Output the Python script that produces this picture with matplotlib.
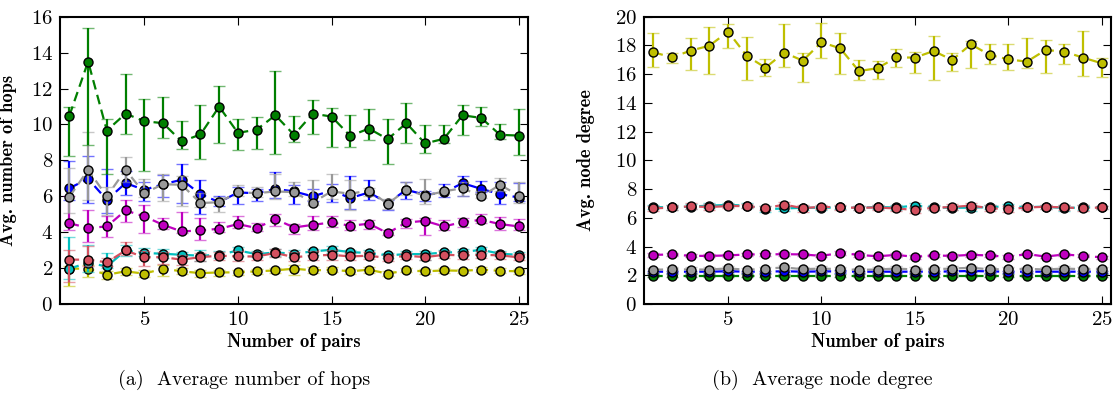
import matplotlib
matplotlib.use("Agg")
import matplotlib.pyplot as plt
import numpy as np

# Number of pairs
pairs = np.arange(1, 26)

# --- Average number of hops: mean, lower and upper error limit per series ---
hops_green = [10.49, 13.5, 9.66, 10.6, 10.18, 10.07, 9.05, 9.44, 10.99, 9.53, 9.71, 10.51, 9.42,
              10.6, 10.44, 9.36, 9.77, 9.18, 10.07, 8.94, 9.2, 10.51, 10.36, 9.42, 9.38]
hops_green_lo = [8.25, 8.86, 7.23, 9.47, 7.38, 9.23, 8.62, 8.06, 8.99, 8.6, 8.64, 8.36, 9.03,
                 9.44, 8.73, 8.75, 9.14, 7.79, 8.95, 8.4, 8.95, 9.4, 9.92, 9.18, 8.31]
hops_green_hi = [10.96, 15.35, 10.33, 12.79, 11.42, 11.51, 10.21, 11.09, 12.16, 10.31, 10.4, 12.98, 10.49,
                 11.38, 10.92, 10.55, 10.85, 10.33, 11.22, 9.97, 9.96, 11.07, 10.99, 10.05, 10.88]

hops_blue = [6.45, 6.97, 5.8, 6.73, 6.36, 6.67, 6.92, 6.12, 5.67, 6.21, 6.17, 6.41, 6.27,
             5.99, 6.32, 5.9, 6.21, 5.62, 6.36, 6.08, 6.21, 6.73, 6.41, 6.12, 5.93]
hops_blue_lo = [5.8, 5.62, 5.06, 6.08, 5.71, 5.95, 5.64, 5.02, 5.47, 5.58, 5.71, 5.88, 5.58,
                5.71, 5.69, 5.28, 5.8, 5.25, 5.86, 5.73, 5.95, 6.03, 6.23, 5.58, 5.71]
hops_blue_hi = [7.99, 8.25, 7.51, 7.38, 6.79, 7.16, 7.8, 6.92, 6.03, 6.54, 6.41, 7.34, 6.64,
                6.4, 6.69, 7.14, 6.88, 5.8, 6.77, 6.32, 6.67, 7.14, 6.86, 6.82, 6.73]

hops_gray = [5.97, 7.47, 5.99, 7.47, 6.17, 6.67, 6.64, 5.62, 5.67, 6.23, 6.17, 6.27, 6.23,
             5.65, 6.27, 6.14, 6.32, 5.58, 6.36, 6.03, 6.27, 6.45, 5.99, 6.64, 6.04]
hops_gray_lo = [5.06, 5.8, 4.95, 6.82, 5.95, 5.71, 5.43, 5.39, 5.15, 5.99, 5.95, 5.86, 6.03,
                5.52, 5.86, 5.25, 5.99, 5.28, 6.08, 5.58, 6.12, 5.99, 5.9, 6.27, 5.62]
hops_gray_hi = [7.56, 9.6, 6.54, 8.18, 6.97, 7.25, 7.14, 6.17, 5.95, 6.6, 6.51, 7.25, 6.77,
                6.92, 7.25, 6.92, 6.45, 5.86, 6.82, 6.97, 6.4, 6.77, 6.32, 7.01, 6.82]

hops_magenta = [4.5, 4.23, 4.32, 5.21, 4.88, 4.41, 4.04, 4.1, 4.19, 4.45, 4.23, 4.73, 4.26,
                4.41, 4.54, 4.36, 4.47, 3.95, 4.54, 4.63, 4.32, 4.56, 4.69, 4.45, 4.32]
hops_magenta_lo = [4.13, 3.45, 3.73, 4.56, 3.95, 4.19, 3.95, 3.58, 4.0, 4.23, 4.08, 4.36, 3.89,
                   4.13, 4.28, 4.1, 4.17, 3.82, 4.23, 3.86, 4.13, 4.28, 4.5, 4.1, 4.13]
hops_magenta_hi = [6.03, 5.21, 4.91, 5.8, 5.52, 4.78, 5.15, 4.78, 4.54, 4.88, 4.5, 5.02, 4.47,
                   4.88, 4.91, 4.69, 4.69, 4.13, 4.73, 4.78, 4.69, 4.78, 5.02, 4.84, 4.73]

hops_cyan = [1.97, 2.3, 2.09, 2.98, 2.84, 2.8, 2.74, 2.69, 2.74, 2.98, 2.78, 2.87, 2.8,
             2.93, 3.02, 2.89, 2.84, 2.71, 2.78, 2.78, 2.87, 2.89, 3.02, 2.8, 2.74]
hops_cyan_lo = [1.4, 1.8, 2.0, 2.65, 2.65, 2.56, 2.56, 2.37, 2.56, 2.69, 2.61, 2.69, 2.61,
                2.74, 2.84, 2.74, 2.65, 2.56, 2.65, 2.47, 2.74, 2.74, 2.84, 2.65, 2.61]
hops_cyan_hi = [3.73, 3.3, 2.84, 3.3, 3.11, 3.06, 2.89, 2.98, 2.93, 3.17, 2.93, 3.06, 3.02,
                3.08, 3.21, 3.02, 2.98, 2.84, 2.93, 2.93, 3.02, 3.06, 3.17, 2.93, 2.89]

hops_red = [2.47, 2.47, 2.32, 2.98, 2.6, 2.61, 2.47, 2.61, 2.69, 2.65, 2.65, 2.84, 2.61,
            2.69, 2.74, 2.65, 2.69, 2.56, 2.69, 2.61, 2.74, 2.71, 2.74, 2.71, 2.6]
hops_red_lo = [1.22, 2.09, 2.09, 2.74, 2.09, 2.24, 2.19, 2.37, 2.47, 2.37, 2.43, 2.61, 2.37,
               2.47, 2.47, 2.43, 2.5, 2.37, 2.52, 2.43, 2.56, 2.52, 2.56, 2.52, 2.43]
hops_red_hi = [2.98, 3.21, 2.56, 3.45, 2.93, 2.87, 2.71, 2.84, 2.87, 2.93, 2.87, 3.06, 2.87,
               2.93, 2.98, 2.84, 2.87, 2.74, 2.84, 2.8, 2.93, 2.89, 2.93, 2.89, 2.8]

hops_yellow = [1.97, 1.97, 1.63, 1.82, 1.69, 1.97, 1.82, 1.72, 1.76, 1.76, 1.82, 1.87, 1.97,
               1.87, 1.91, 1.82, 1.91, 1.69, 1.87, 1.82, 1.87, 1.85, 1.91, 1.85, 1.82]
hops_yellow_lo = [1.02, 1.5, 1.39, 1.63, 1.5, 1.58, 1.67, 1.5, 1.58, 1.63, 1.67, 1.72, 1.63,
                  1.72, 1.76, 1.67, 1.72, 1.54, 1.76, 1.69, 1.72, 1.72, 1.76, 1.72, 1.69]
hops_yellow_hi = [2.09, 2.15, 1.82, 2.0, 1.91, 2.15, 2.0, 1.91, 1.91, 1.91, 1.97, 2.0, 2.15,
                  2.04, 2.06, 1.95, 2.06, 1.85, 2.0, 1.95, 2.0, 1.97, 2.06, 2.0, 1.95]

# --- Average node degree ---
deg_yellow = [17.52, 17.17, 17.64, 17.98, 18.96, 17.27, 16.45, 17.5, 16.94, 18.22, 17.8, 16.22, 16.41,
              17.17, 17.15, 17.61, 16.99, 18.08, 17.34, 17.03, 16.87, 17.68, 17.57, 17.15, 16.76]
deg_yellow_lo = [16.48, 16.76, 16.29, 16.01, 17.8, 15.6, 15.87, 16.48, 15.43, 17.1, 16.01, 15.6, 15.64,
                 16.48, 16.11, 15.6, 16.22, 16.41, 16.69, 16.29, 16.45, 16.06, 16.71, 15.9, 15.83]
deg_yellow_hi = [18.84, 17.5, 18.5, 19.3, 19.47, 18.56, 17.08, 19.47, 17.5, 19.58, 18.89, 16.99, 16.94,
                 17.75, 17.52, 18.68, 17.5, 18.33, 18.1, 18.1, 18.5, 18.38, 18.08, 19.0, 17.15]

deg_cyan = [6.75, 6.72, 6.78, 6.85, 6.9, 6.85, 6.6, 6.65, 6.7, 6.7, 6.72, 6.7, 6.75,
            6.72, 6.85, 6.72, 6.7, 6.7, 6.75, 6.8, 6.75, 6.77, 6.68, 6.72, 6.72]
deg_cyan_err = [0.15, 0.15, 0.2, 0.15, 0.15, 0.15, 0.2, 0.2, 0.15, 0.15, 0.12, 0.15, 0.15,
                0.2, 0.15, 0.15, 0.15, 0.2, 0.15, 0.15, 0.15, 0.15, 0.2, 0.15, 0.12]

deg_red = [6.65, 6.72, 6.8, 6.75, 6.82, 6.82, 6.67, 6.92, 6.67, 6.77, 6.72, 6.7, 6.72,
           6.65, 6.55, 6.7, 6.75, 6.85, 6.67, 6.6, 6.72, 6.77, 6.72, 6.67, 6.72]
deg_red_err = [0.2, 0.15, 0.2, 0.2, 0.15, 0.15, 0.15, 0.2, 0.25, 0.15, 0.15, 0.15, 0.15,
               0.2, 0.2, 0.15, 0.2, 0.2, 0.2, 0.2, 0.15, 0.15, 0.2, 0.2, 0.12]

deg_magenta = [3.42, 3.45, 3.35, 3.35, 3.38, 3.45, 3.45, 3.47, 3.45, 3.35, 3.55, 3.42, 3.32,
               3.42, 3.28, 3.38, 3.35, 3.42, 3.38, 3.28, 3.48, 3.3, 3.45, 3.35, 3.25]
deg_magenta_err = [0.12, 0.12, 0.1, 0.1, 0.1, 0.12, 0.12, 0.12, 0.12, 0.1, 0.12, 0.12, 0.1,
                   0.12, 0.12, 0.1, 0.1, 0.12, 0.1, 0.12, 0.1, 0.1, 0.12, 0.1, 0.12]

deg_gray = [2.38, 2.42, 2.4, 2.4, 2.48, 2.38, 2.45, 2.55, 2.42, 2.47, 2.42, 2.38, 2.4,
            2.47, 2.4, 2.42, 2.47, 2.52, 2.42, 2.42, 2.45, 2.4, 2.47, 2.42, 2.42]
deg_gray_err = [0.15, 0.15, 0.15, 0.15, 0.15, 0.15, 0.15, 0.15, 0.15, 0.15, 0.15, 0.15, 0.15,
                0.15, 0.15, 0.15, 0.15, 0.15, 0.15, 0.15, 0.15, 0.15, 0.15, 0.15, 0.15]

deg_blue = [2.25, 2.25, 2.25, 2.25, 2.28, 2.25, 2.25, 2.28, 2.25, 2.27, 2.27, 2.25, 2.25,
            2.25, 2.25, 2.25, 2.27, 2.3, 2.27, 2.25, 2.25, 2.25, 2.25, 2.25, 2.25]
deg_blue_err = [0.08, 0.08, 0.08, 0.08, 0.08, 0.08, 0.08, 0.08, 0.08, 0.08, 0.08, 0.08, 0.08,
                0.08, 0.08, 0.08, 0.08, 0.08, 0.08, 0.08, 0.08, 0.08, 0.08, 0.08, 0.08]

deg_green = [1.97, 1.97, 1.97, 1.97, 1.97, 1.97, 1.97, 1.97, 1.97, 1.97, 1.97, 1.97, 1.97,
             1.97, 1.97, 1.97, 1.97, 1.97, 1.97, 1.97, 1.97, 1.97, 1.97, 1.97, 1.97]
deg_green_err = [0.12, 0.12, 0.12, 0.12, 0.12, 0.12, 0.12, 0.12, 0.12, 0.12, 0.12, 0.12, 0.12,
                 0.12, 0.12, 0.12, 0.12, 0.12, 0.12, 0.12, 0.12, 0.12, 0.12, 0.12, 0.12]

# Colours
c_green = '#007f00'
c_blue = '#0000ff'
c_gray = '#999999'
c_magenta = '#bf00bf'
c_cyan = '#00bfbf'
c_red = '#d4505f'
c_yellow = '#bfbf00'

plt.rcParams['lines.scale_dashes'] = False
plt.rcParams['axes.formatter.use_mathtext'] = True
tick_font = 'cmr10'
label_font = 'cmb10'


def draw(ax, y, lo, hi, col, z):
    y = np.asarray(y)
    err = [y - np.asarray(lo), np.asarray(hi) - y]
    line, caps, bars = ax.errorbar(pairs, y, yerr=err, color=col, ecolor=col,
                                   marker='o', markersize=6.5, markerfacecolor=col,
                                   markeredgecolor='black', markeredgewidth=1.0,
                                   linewidth=1.6, elinewidth=1.6, capsize=4.5,
                                   capthick=1.8, zorder=z)
    line.set_dashes((7, 4))
    for c in caps:
        c.set_alpha(0.55)
    return line


def style(ax, ymax, ylabel, ylab_x):
    ax.set_xlim(0.5, 25.5)
    ax.set_ylim(0, ymax)
    ax.set_xticks([5, 10, 15, 20, 25])
    ax.set_yticks(np.arange(0, ymax + 1, 2))
    ax.tick_params(direction='in', length=6, width=0.8, top=True, right=True,
                   labelsize=15, pad=5)
    for lab in ax.get_xticklabels() + ax.get_yticklabels():
        lab.set_family(tick_font)
    for s in ax.spines.values():
        s.set_linewidth(1.5)
    ax.set_xlabel('Number of pairs', family=label_font, fontsize=13.3)
    ax.set_ylabel(ylabel, family=label_font, fontsize=13.3)
    ax.xaxis.set_label_coords(0.5, -0.1)
    ax.yaxis.set_label_coords(ylab_x, 0.5)


fig = plt.figure(figsize=(11.16, 4.04), dpi=100)
ax1 = fig.add_axes([0.0538, 0.2475, 0.4194, 0.7112])
ax2 = fig.add_axes([0.5771, 0.2475, 0.4184, 0.7112])

# left panel
draw(ax1, hops_yellow, hops_yellow_lo, hops_yellow_hi, c_yellow, 2)
draw(ax1, hops_cyan, hops_cyan_lo, hops_cyan_hi, c_cyan, 3)
draw(ax1, hops_red, hops_red_lo, hops_red_hi, c_red, 4)
draw(ax1, hops_magenta, hops_magenta_lo, hops_magenta_hi, c_magenta, 5)
draw(ax1, hops_blue, hops_blue_lo, hops_blue_hi, c_blue, 6)
draw(ax1, hops_gray, hops_gray_lo, hops_gray_hi, c_gray, 7)
draw(ax1, hops_green, hops_green_lo, hops_green_hi, c_green, 8)
style(ax1, 16, 'Avg. number of hops', -0.092)

# right panel
def sym(y, e):
    y = np.asarray(y)
    e = np.asarray(e)
    return y, y - e, y + e

draw(ax2, *sym(deg_green, deg_green_err), c_green, 2)
draw(ax2, *sym(deg_blue, deg_blue_err), c_blue, 3)
draw(ax2, *sym(deg_gray, deg_gray_err), c_gray, 4)
draw(ax2, *sym(deg_magenta, deg_magenta_err), c_magenta, 5)
draw(ax2, *sym(deg_cyan, deg_cyan_err), c_cyan, 6)
draw(ax2, *sym(deg_red, deg_red_err), c_red, 7)
draw(ax2, deg_yellow, deg_yellow_lo, deg_yellow_hi, c_yellow, 8)
style(ax2, 20, 'Avg. node degree', -0.105)

fig.text(0.219, 0.06, '(a)  Average number of hops', family=tick_font, fontsize=14.4,
         ha='center', va='center')
fig.text(0.737, 0.06, '(b)  Average node degree', family=tick_font, fontsize=14.4,
         ha='center', va='center')

fig.savefig('out.png', dpi=100)
